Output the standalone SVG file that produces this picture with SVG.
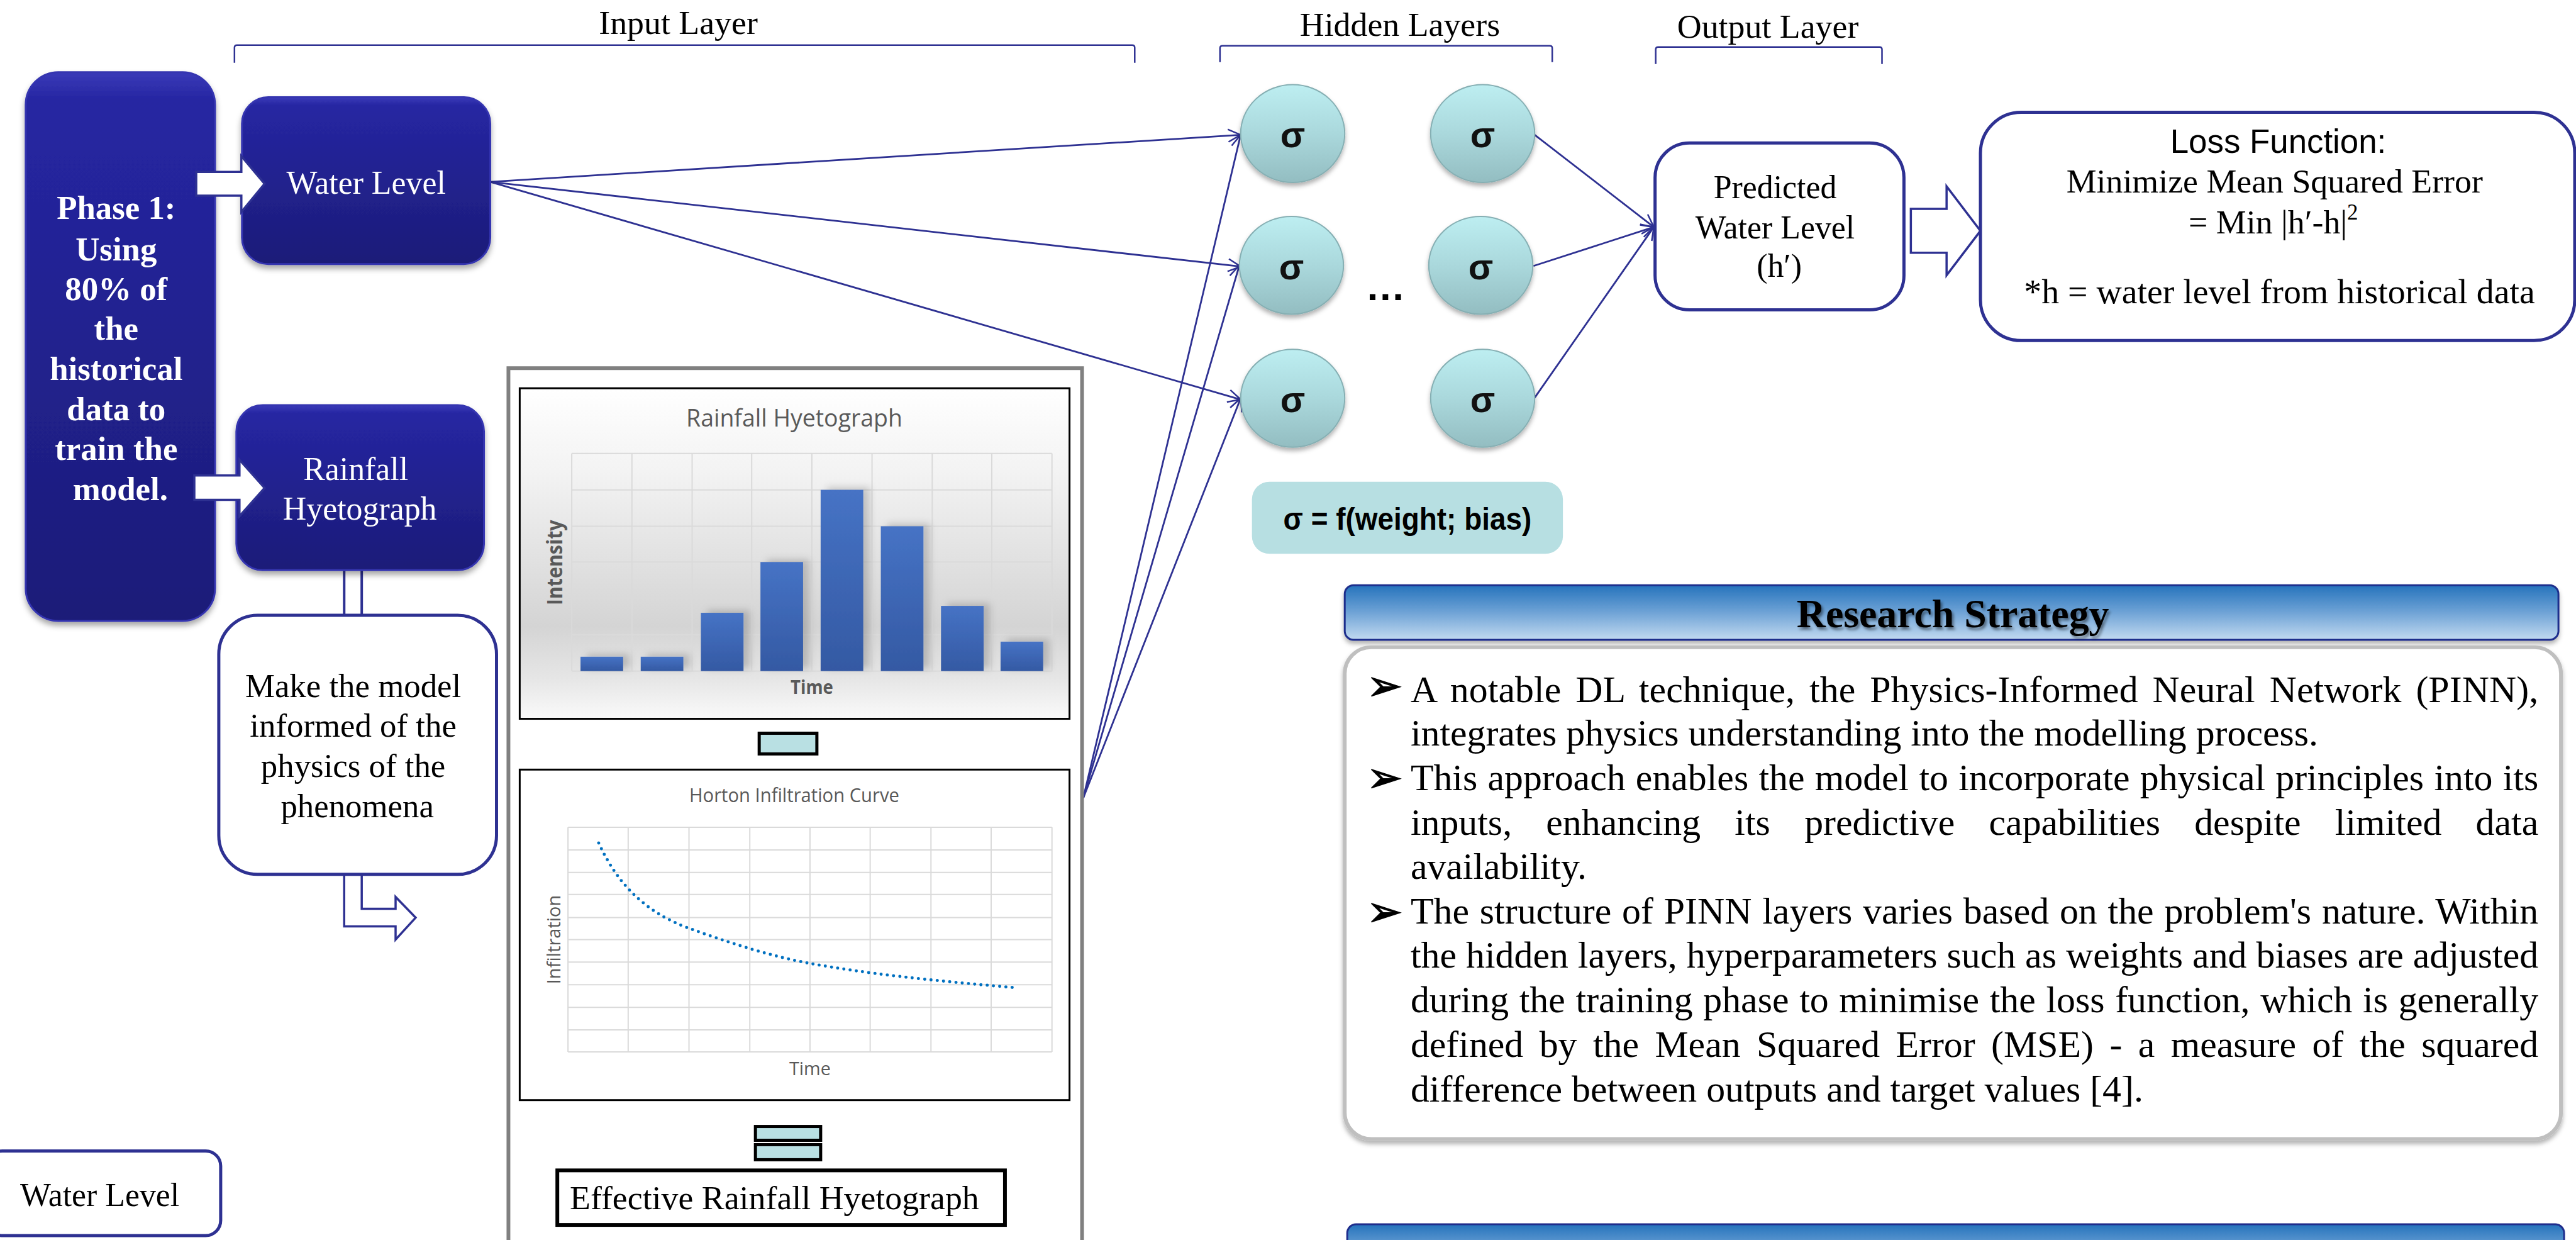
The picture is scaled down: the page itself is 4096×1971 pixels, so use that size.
<svg xmlns="http://www.w3.org/2000/svg" width="4096" height="1971" viewBox="0 0 4096 1971">
  <defs>
    <style>
      .serif { font-family: "Liberation Serif", "Times New Roman", serif; }
      .sans { font-family: "Liberation Sans", Arial, sans-serif; }
      .chart { font-family: "Open Sans", "Liberation Sans", sans-serif; fill: #595959; }
      .label { font-size: 54px; fill: #000; text-anchor: middle; }
      .bracket { fill: none; stroke: #2E3192; stroke-width: 2.5; }
      .navy { fill: url(#navyGrad); stroke: #3434B0; stroke-width: 3; }
      .navytext { fill: #fff; font-size: 52px; text-anchor: middle; }
      .outline { fill: #fff; stroke: #2E3192; stroke-width: 5; }
      .blockarrow { fill: #fff; stroke: #2E3192; stroke-width: 3.5; stroke-linejoin: miter; }
      .neuron { fill: url(#neuronGrad); stroke: #86AFB3; stroke-width: 2; }
      .sigma { font-family: "Liberation Sans", Arial, sans-serif; font-weight: bold; font-size: 58px; fill: #111; text-anchor: middle; }
      .link { fill: none; stroke: #2E3192; stroke-width: 2.8; marker-end: url(#openHead); }
      .grid { stroke: #DADADA; stroke-width: 2; fill: none; }
      .body { font-size: 60px; fill: #000; }
      .bullet { font-family: "DejaVu Sans", sans-serif; font-size: 68px; fill: #000; stroke: #000; stroke-width: 1.5; }
      .op { fill: #B9E0E3; stroke: #000; stroke-width: 5; }
    </style>
    <linearGradient id="navyGrad" x1="0" y1="0" x2="0" y2="1">
      <stop offset="0" stop-color="#3A3AB8"/>
      <stop offset="0.05" stop-color="#2626A2"/>
      <stop offset="1" stop-color="#1C1C78"/>
    </linearGradient>
    <linearGradient id="neuronGrad" x1="0" y1="0" x2="0" y2="1">
      <stop offset="0" stop-color="#BDEEF1"/>
      <stop offset="0.5" stop-color="#AAD8DC"/>
      <stop offset="1" stop-color="#93BDC1"/>
    </linearGradient>
    <linearGradient id="headerGrad" x1="0" y1="0" x2="0" y2="1">
      <stop offset="0" stop-color="#2573BC"/>
      <stop offset="0.5" stop-color="#6FA3D6"/>
      <stop offset="1" stop-color="#C2DAF0"/>
    </linearGradient>
    <linearGradient id="chartBg" x1="0" y1="0" x2="0" y2="1">
      <stop offset="0" stop-color="#FFFFFF"/>
      <stop offset="0.25" stop-color="#F3F3F3"/>
      <stop offset="0.72" stop-color="#D4D4D4"/>
      <stop offset="0.88" stop-color="#E6E6E6"/>
      <stop offset="1" stop-color="#FAFAFA"/>
    </linearGradient>
    <linearGradient id="barGrad" x1="0" y1="0" x2="0" y2="1">
      <stop offset="0" stop-color="#4673C5"/>
      <stop offset="1" stop-color="#3459A3"/>
    </linearGradient>
    <filter id="shadow" x="-10%" y="-10%" width="120%" height="130%">
      <feDropShadow dx="0" dy="6" stdDeviation="5" flood-color="#000" flood-opacity="0.35"/>
    </filter>
    <filter id="softShadow" x="-10%" y="-10%" width="120%" height="130%">
      <feDropShadow dx="0" dy="5" stdDeviation="4" flood-color="#000" flood-opacity="0.3"/>
    </filter>
    <filter id="barShadow" x="-20%" y="-20%" width="160%" height="140%">
      <feDropShadow dx="10" dy="-4" stdDeviation="6" flood-color="#000" flood-opacity="0.18"/>
    </filter>
    <filter id="textShadow" x="-10%" y="-20%" width="120%" height="150%">
      <feDropShadow dx="3" dy="4" stdDeviation="2" flood-color="#000" flood-opacity="0.45"/>
    </filter>
    <marker id="openHead" markerUnits="userSpaceOnUse" markerWidth="26" markerHeight="26" refX="22" refY="12" orient="auto">
      <path d="M2,2 L22,12 L2,22" fill="none" stroke="#2E3192" stroke-width="2.5"/>
    </marker>
  </defs>

  <rect x="0" y="0" width="4096" height="1971" fill="#fff"/>

  <g transform="scale(0.99684 0.99697)">

    <!-- layer captions and brackets -->
    <g id="layer-labels">
      <text class="serif label" x="1082" y="54">Input Layer</text>
      <path class="bracket" d="M374,100 L374,76 Q374,72 378,72 L1806,72 Q1810,72 1810,76 L1810,100"/>
      <text class="serif label" x="2233" y="57">Hidden Layers</text>
      <path class="bracket" d="M1946,99 L1946,77 Q1946,73 1950,73 L2472,73 Q2476,73 2476,77 L2476,99"/>
      <text class="serif label" x="2820" y="60">Output Layer</text>
      <path class="bracket" d="M2641,102 L2641,79 Q2641,75 2645,75 L2998,75 Q3002,75 3002,79 L3002,102"/>
    </g>

    <!-- connectors -->
    <g id="connectors">
      <line class="link" x1="782" y1="290" x2="1979" y2="215"/>
      <line class="link" x1="782" y1="290" x2="1979" y2="425"/>
      <line class="link" x1="782" y1="290" x2="1979" y2="637"/>
      <line class="link" x1="1728" y1="1272" x2="1979" y2="215"/>
      <line class="link" x1="1728" y1="1272" x2="1977" y2="423"/>
      <line class="link" x1="1728" y1="1272" x2="1979" y2="635"/>
      <line class="link" x1="2448" y1="215" x2="2638" y2="362"/>
      <line class="link" x1="2446" y1="424" x2="2638" y2="362"/>
      <line class="link" x1="2448" y1="634" x2="2638" y2="362"/>
      <!-- rainfall box down to the physics box -->
      <rect x="549" y="906" width="28" height="78" fill="#fff" stroke="#2E3192" stroke-width="4"/>
      <!-- bent arrow leaving the physics box -->
      <path class="blockarrow" d="M549,1394 L549,1477 L631,1477 L631,1498 L663,1463 L631,1430 L631,1449 L577,1449 L577,1394" stroke-width="4.5"/>
    </g>

    <!-- phase 1 column -->
    <g id="phase1">
      <rect class="navy" x="41" y="115" width="302" height="875" rx="52" filter="url(#shadow)"/>
      <text class="serif" font-weight="bold" font-size="53" fill="#fff" text-anchor="middle">
        <tspan x="192" y="349">Phase 1:</tspan>
        <tspan x="192" y="415">Using</tspan>
        <tspan x="192" y="478">80% of</tspan>
        <tspan x="192" y="542">the</tspan>
        <tspan x="192" y="606">historical</tspan>
        <tspan x="192" y="670">data to</tspan>
        <tspan x="192" y="733">train the</tspan>
        <tspan x="192" y="797">model.</tspan>
      </text>
    </g>

    <g id="water-level">
      <rect class="navy" x="386" y="155" width="396" height="266" rx="42" filter="url(#shadow)"/>
      <text class="serif navytext" x="584" y="309">Water Level</text>
    </g>

    <g id="rainfall">
      <rect class="navy" x="377" y="646" width="395" height="263" rx="42" filter="url(#shadow)"/>
      <text class="serif navytext">
        <tspan x="574" y="765">Rainfall</tspan>
        <tspan x="574" y="829">Hyetograph</tspan>
      </text>
    </g>

    <g id="phase-arrows">
      <path class="blockarrow" d="M313,274 L385,274 L385,249 L422,293 L385,338 L385,312 L313,312 Z"/>
      <path class="blockarrow" d="M310,758 L382,758 L382,733 L422,778 L382,823 L382,797 L310,797 Z"/>
    </g>

    <g id="physics">
      <rect class="outline" x="349" y="981" width="443" height="413" rx="62"/>
      <text class="serif" font-size="53" fill="#000" text-anchor="middle">
        <tspan x="570" y="1111">Make the model</tspan>
        <tspan x="570" y="1175">informed of the</tspan>
        <tspan x="570" y="1239">physics of the</tspan>
        <tspan x="570" y="1303">phenomena</tspan>
      </text>
    </g>

    <g id="legend-water-level">
      <rect class="outline" x="-20" y="1835" width="372" height="135" rx="24"/>
      <text class="serif" font-size="52" fill="#000" x="32" y="1923">Water Level</text>
    </g>

    <!-- rainfall processing panel -->
    <g id="hyetograph-panel">
      <rect x="811" y="587" width="915" height="1500" fill="#fff" stroke="#808080" stroke-width="6"/>

      <!-- rainfall hyetograph chart -->
      <rect x="829" y="619" width="877" height="527" fill="url(#chartBg)" stroke="#000" stroke-width="3"/>
      <text class="chart" x="1267" y="680" font-size="38" text-anchor="middle" textLength="345" lengthAdjust="spacingAndGlyphs">Rainfall Hyetograph</text>
      <g class="grid">
        <path d="M912,723 H1678 M912,781 H1678 M912,839 H1678 M912,896 H1678 M912,954 H1678 M912,1012 H1678 M912,1070 H1678"/>
        <path d="M912,723 V1070 M1008,723 V1070 M1104,723 V1070 M1199,723 V1070 M1295,723 V1070 M1391,723 V1070 M1487,723 V1070 M1582,723 V1070 M1678,723 V1070"/>
      </g>
      <g fill="url(#barGrad)" filter="url(#barShadow)">
        <rect x="926" y="1047" width="68" height="23"/>
        <rect x="1022" y="1047" width="68" height="23"/>
        <rect x="1118" y="977" width="68" height="93"/>
        <rect x="1213" y="896" width="68" height="174"/>
        <rect x="1309" y="781" width="68" height="289"/>
        <rect x="1405" y="839" width="68" height="231"/>
        <rect x="1501" y="966" width="68" height="104"/>
        <rect x="1596" y="1023" width="68" height="47"/>
      </g>
      <text class="chart" font-weight="bold" font-size="34" text-anchor="middle" transform="translate(897,897) rotate(-90)" textLength="136" lengthAdjust="spacingAndGlyphs">Intensity</text>
      <text class="chart" font-weight="bold" font-size="31" x="1295" y="1106" text-anchor="middle" textLength="68" lengthAdjust="spacingAndGlyphs">Time</text>

      <rect class="op" x="1211" y="1169" width="92" height="33"/>

      <!-- Horton infiltration chart -->
      <rect x="829" y="1227" width="877" height="527" fill="#fff" stroke="#000" stroke-width="3"/>
      <text class="chart" x="1267" y="1279" font-size="31" text-anchor="middle" textLength="335" lengthAdjust="spacingAndGlyphs">Horton Infiltration Curve</text>
      <g class="grid">
        <path d="M906,1319 H1678 M906,1355 H1678 M906,1391 H1678 M906,1426 H1678 M906,1463 H1678 M906,1498 H1678 M906,1534 H1678 M906,1570 H1678 M906,1606 H1678 M906,1642 H1678 M906,1677 H1678"/>
        <path d="M906,1319 V1677 M1002,1319 V1677 M1099,1319 V1677 M1196,1319 V1677 M1292,1319 V1677 M1388,1319 V1677 M1485,1319 V1677 M1581,1319 V1677 M1678,1319 V1677"/>
      </g>
      <path d="M955,1344 C985,1410 1030,1455 1099,1480 C1160,1502 1230,1525 1292,1536 C1380,1552 1480,1563 1623,1575" fill="none" stroke="#0070C0" stroke-width="5" stroke-linecap="round" stroke-dasharray="0 10"/>
      <text class="chart" font-size="30" text-anchor="middle" transform="translate(894,1498) rotate(-90)" textLength="142" lengthAdjust="spacingAndGlyphs">Infiltration</text>
      <text class="chart" font-size="30" x="1292" y="1714" text-anchor="middle" textLength="66" lengthAdjust="spacingAndGlyphs">Time</text>

      <rect class="op" x="1205" y="1796" width="104" height="22"/>
      <rect class="op" x="1205" y="1825" width="104" height="24"/>

      <rect x="889" y="1866" width="714" height="87" fill="#fff" stroke="#000" stroke-width="6"/>
      <text class="serif" font-size="54" fill="#000" x="909" y="1928">Effective Rainfall Hyetograph</text>
    </g>

    <!-- hidden layer neurons -->
    <g id="neuron-1-1"><ellipse class="neuron" cx="2062" cy="213" rx="83" ry="78" filter="url(#softShadow)"/><text class="sigma" x="2062" y="235">σ</text></g>
    <g id="neuron-1-2"><ellipse class="neuron" cx="2060" cy="423" rx="83" ry="78" filter="url(#softShadow)"/><text class="sigma" x="2060" y="445">σ</text></g>
    <g id="neuron-1-3"><ellipse class="neuron" cx="2062" cy="635" rx="83" ry="78" filter="url(#softShadow)"/><text class="sigma" x="2062" y="657">σ</text></g>
    <g id="neuron-2-1"><ellipse class="neuron" cx="2365" cy="213" rx="83" ry="78" filter="url(#softShadow)"/><text class="sigma" x="2365" y="235">σ</text></g>
    <g id="neuron-2-2"><ellipse class="neuron" cx="2362" cy="423" rx="83" ry="78" filter="url(#softShadow)"/><text class="sigma" x="2362" y="445">σ</text></g>
    <g id="neuron-2-3"><ellipse class="neuron" cx="2365" cy="635" rx="83" ry="78" filter="url(#softShadow)"/><text class="sigma" x="2365" y="657">σ</text></g>
    <text class="sans" font-weight="bold" font-size="64" x="2210" y="478" text-anchor="middle">…</text>

    <g id="activation-note">
      <rect x="1997" y="768" width="496" height="115" rx="28" fill="#B7DFE2"/>
      <text class="sans" font-weight="bold" font-size="50" x="2245" y="845" text-anchor="middle" textLength="396" lengthAdjust="spacingAndGlyphs">σ = f(weight; bias)</text>
    </g>

    <g id="predicted">
      <rect class="outline" x="2640" y="228" width="397" height="266" rx="55" stroke-width="6"/>
      <text class="serif" font-size="52" fill="#000" text-anchor="middle">
        <tspan x="2838" y="316">Predicted</tspan>
        <tspan x="2838" y="380">Water Level</tspan>
        <tspan x="2838" y="441">(h′)</tspan>
      </text>
    </g>

    <path id="to-loss" class="blockarrow" d="M3048,333 L3105,333 L3105,297 L3159,368 L3105,439 L3105,403 L3048,403 Z" stroke-width="6"/>

    <g id="loss">
      <rect class="outline" x="3159" y="179" width="948" height="364" rx="65" stroke-width="6"/>
      <text class="sans" font-size="53" x="3634" y="244" text-anchor="middle">Loss Function:</text>
      <text class="serif" font-size="54" text-anchor="middle">
        <tspan x="3635" y="307">Minimize Mean Squared Error</tspan>
        <tspan x="3633" y="372">= Min |h′-h|<tspan font-size="35" dy="-22">2</tspan></tspan>
        <tspan x="3636" y="483" font-size="56">*h = water level from historical data</tspan>
      </text>
    </g>

    <!-- research strategy panel -->
    <g id="research-strategy">
      <rect x="2145" y="933" width="1936" height="87" rx="14" fill="url(#headerGrad)" stroke="#1F2D8C" stroke-width="3" filter="url(#softShadow)"/>
      <text class="serif" font-weight="bold" font-size="64" x="3115" y="1000" text-anchor="middle" filter="url(#textShadow)">Research Strategy</text>

      <rect x="2145" y="1032" width="1940" height="784" rx="42" fill="#fff" stroke="#BFBFBF" stroke-width="6" filter="url(#softShadow)"/>
      <g class="serif body">
        <text class="bullet" x="2180" y="1116">➢</text>
        <text class="bullet" x="2180" y="1263">➢</text>
        <text class="bullet" x="2180" y="1476">➢</text>
        <text x="2250" y="1119" word-spacing="7.9" textLength="1799" lengthAdjust="spacing">A notable DL technique, the Physics-Informed Neural Network (PINN),</text>
        <text x="2250" y="1189">integrates physics understanding into the modelling process.</text>
        <text x="2250" y="1260" word-spacing="1.3" textLength="1799" lengthAdjust="spacing">This approach enables the model to incorporate physical principles into its</text>
        <text x="2250" y="1331" word-spacing="39.4" textLength="1799" lengthAdjust="spacing">inputs, enhancing its predictive capabilities despite limited data</text>
        <text x="2250" y="1401">availability.</text>
        <text x="2250" y="1472" word-spacing="1.7" textLength="1799" lengthAdjust="spacing">The structure of PINN layers varies based on the problem's nature. Within</text>
        <text x="2250" y="1543" textLength="1799" lengthAdjust="spacing">the hidden layers, hyperparameters such as weights and biases are adjusted</text>
        <text x="2250" y="1614" word-spacing="1.7" textLength="1799" lengthAdjust="spacing">during the training phase to minimise the loss function, which is generally</text>
        <text x="2250" y="1685" word-spacing="10.5" textLength="1799" lengthAdjust="spacing">defined by the Mean Squared Error (MSE) - a measure of the squared</text>
        <text x="2250" y="1756">difference between outputs and target values [4].</text>
      </g>

      <rect x="2149" y="1952" width="1941" height="80" rx="14" fill="url(#headerGrad)" stroke="#1F2D8C" stroke-width="3"/>
    </g>
  </g>
</svg>
